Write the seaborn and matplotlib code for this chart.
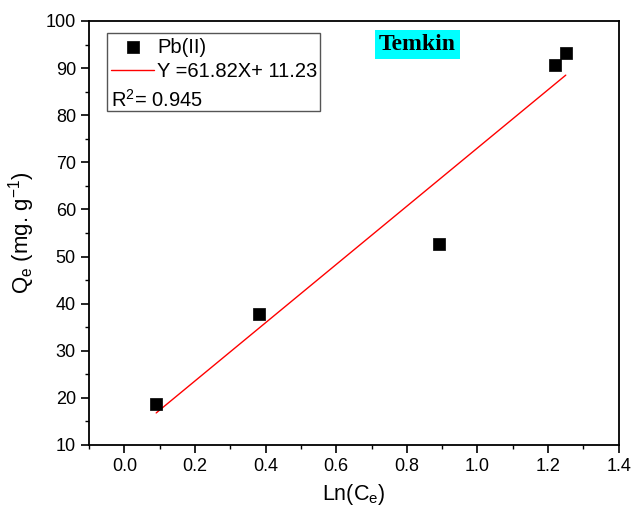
import matplotlib
matplotlib.use("Agg")
import matplotlib.pyplot as plt
import seaborn as sns
import numpy as np
import pandas as pd
from matplotlib.patches import Rectangle
from matplotlib.ticker import MultipleLocator

# data
ln_ce = [0.09, 0.38, 0.89, 1.22, 1.25]
qe = [18.7, 37.7, 52.7, 90.7, 93.2]
slope = 61.82
intercept = 11.23
r2 = 0.945

sns.set_style("ticks")
plt.rcParams['font.family'] = ['Liberation Sans', 'DejaVu Sans']
plt.rcParams['mathtext.default'] = 'regular'
plt.rcParams['text.color'] = 'black'
plt.rcParams['axes.labelcolor'] = 'black'
plt.rcParams['xtick.color'] = 'black'
plt.rcParams['ytick.color'] = 'black'

df = pd.DataFrame({"x": ln_ce, "y": qe})
xf = np.array([min(ln_ce), max(ln_ce)])
fit = pd.DataFrame({"x": xf, "y": slope * xf + intercept})

fig = plt.figure(figsize=(6.32, 5.12), dpi=100)
ax = fig.add_axes([0.141, 0.131, 0.838, 0.828])

sns.scatterplot(data=df, x="x", y="y", marker="s", s=68, color="black",
                edgecolor="black", linewidth=0.5, ax=ax, label="Pb(II)", zorder=3)
sns.lineplot(data=fit, x="x", y="y", color="red", linewidth=1.0, ax=ax,
             label=f"Y ={slope}X+ {intercept}")

ax.set_xlim(-0.1, 1.4)
ax.set_ylim(10, 100)
ax.xaxis.set_major_locator(MultipleLocator(0.2))
ax.xaxis.set_minor_locator(MultipleLocator(0.1))
ax.yaxis.set_major_locator(MultipleLocator(10))
ax.yaxis.set_minor_locator(MultipleLocator(5))
ax.tick_params(axis='both', which='major', direction='out', length=6, width=1.2,
               labelsize=13, colors='black')
ax.tick_params(axis='both', which='minor', direction='out', length=3, width=1.0)
ax.xaxis.set_major_formatter(matplotlib.ticker.FormatStrFormatter('%.1f'))
for sp in ax.spines.values():
    sp.set_visible(True)
    sp.set_linewidth(1.3)
    sp.set_color("black")

ax.set_xlabel("Ln(C$_e$)", fontsize=15.5, labelpad=5)
ax.set_ylabel("Q$_e$ (mg. g$^{-1}$)", fontsize=16, labelpad=6)

leg = ax.legend(loc="upper left", bbox_to_anchor=(0.034, 0.970), frameon=False,
                fontsize=14.5, handlelength=2.15, handletextpad=0.15,
                labelspacing=0.25, borderaxespad=0, borderpad=0.2)
ax.text(0.042, 0.815, f"R$^2$= {r2}", transform=ax.transAxes, fontsize=14.5,
        ha="left", va="center")
ax.add_patch(Rectangle((0.034, 0.788), 0.402, 0.184, transform=ax.transAxes,
                       fill=False, edgecolor="#555555", linewidth=1.0, zorder=5))

ax.text(0.620, 0.944, "Temkin", transform=ax.transAxes, fontsize=17,
        fontweight="bold", family=["Liberation Serif"], ha="center", va="center",
        bbox=dict(boxstyle="square,pad=0.18", facecolor="#00FFFF", edgecolor="none"))

fig.savefig("out.png", dpi=100)
